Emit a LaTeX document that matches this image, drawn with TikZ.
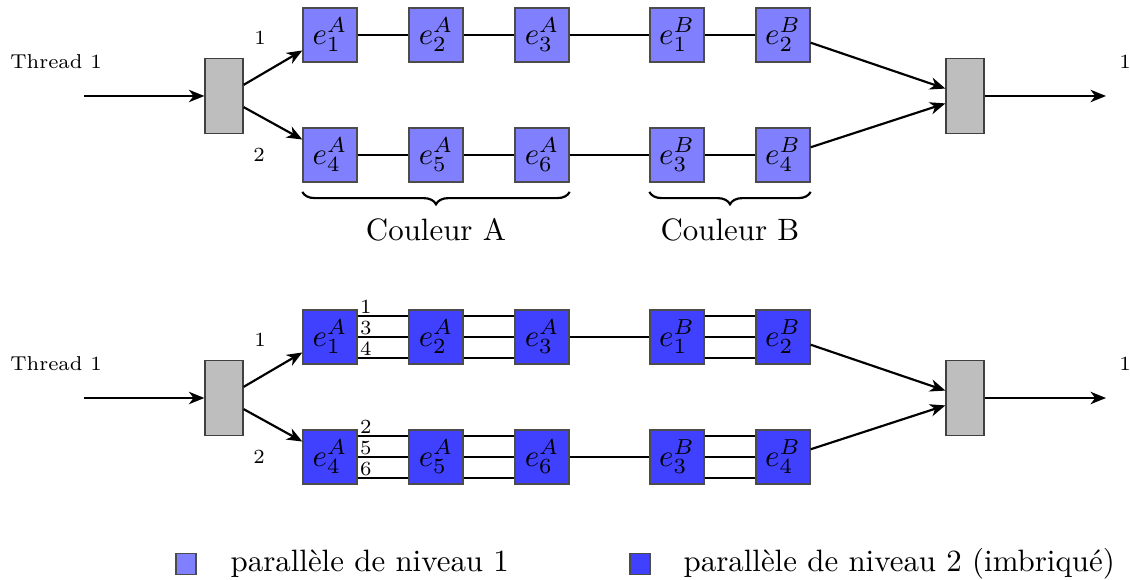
\documentclass[tikz,border=0pt]{standalone}
\usetikzlibrary{arrows.meta,decorations.pathreplacing}
\definecolor{lvone}{RGB}{128,128,255}
\definecolor{lvtwo}{RGB}{64,64,255}
\definecolor{splitgray}{RGB}{190,190,190}
\newcommand{\smallfnt}{\fontsize{6.5pt}{8pt}\selectfont}
\tikzset{
  elem/.style={draw=black!70, minimum width=17.5pt, minimum height=17.5pt, inner sep=0pt, font=\normalsize},
  lone/.style={elem, fill=lvone},
  ltwo/.style={elem, fill=lvtwo},
  splitbox/.style={draw=black!75, fill=splitgray, minimum width=12.3pt, minimum height=24.3pt, inner sep=0pt},
  conn/.style={line width=0.7pt},
  arr/.style={line width=0.7pt, -{Stealth[length=5pt,width=4pt,inset=1.5pt]}},
  small/.style={font=\smallfnt},
  lbl/.style={font=\smallfnt, inner sep=0.6pt, anchor=south west},
  bracestyle/.style={line width=0.7pt, decorate, decoration={brace, mirror, amplitude=4pt}},
  legsq/.style={draw=black!70, minimum width=6.5pt, minimum height=7pt, inner sep=0pt}
}
\begin{document}
\begin{tikzpicture}[x=0.3236pt, y=-0.3236pt]
\useasboundingbox (0,0) rectangle (1130,580);

% ---------------- top diagram ----------------
\node[small] (th1) at (56,62) {Thread 1};
\coordinate (in1) at (84,96);
\node[splitbox] (s1) at (224,96) {};
\node[splitbox] (m1) at (965,96) {};
\coordinate (out1) at (1106,96);
\node[small] (o1) at (1125,62) {1};

\node[lone] (a1) at (330,35) {$e_1^A$};
\node[lone] (a2) at (436,35) {$e_2^A$};
\node[lone] (a3) at (542,35) {$e_3^A$};
\node[lone] (b1) at (677,35) {$e_1^B$};
\node[lone] (b2) at (783,35) {$e_2^B$};
\node[lone] (a4) at (330,155) {$e_4^A$};
\node[lone] (a5) at (436,155) {$e_5^A$};
\node[lone] (a6) at (542,155) {$e_6^A$};
\node[lone] (b3) at (677,155) {$e_3^B$};
\node[lone] (b4) at (783,155) {$e_4^B$};

\node[small] (t1l1) at (260,38) {1};
\node[small] (t1l2) at (259,155) {2};

\draw[arr] (in1) -- (s1.west);
\draw[arr] ([yshift=3.6pt]s1.east) -- ([yshift=-5pt]a1.west);
\draw[arr] ([yshift=-3.6pt]s1.east) -- ([yshift=5pt]a4.west);
\draw[conn] (a1) -- (a2) -- (a3) -- (b1) -- (b2);
\draw[conn] (a4) -- (a5) -- (a6) -- (b3) -- (b4);
\draw[arr] ([yshift=-2.5pt]b2.east) -- ([yshift=2.4pt]m1.west);
\draw[arr] ([yshift=2.5pt]b4.east) -- ([yshift=-2.4pt]m1.west);
\draw[arr] (m1.east) -- (out1);

\draw[bracestyle] ([yshift=-3pt]a4.south west) -- ([yshift=-3pt]a6.south east)
  node[midway, below=5pt, font=\normalsize] (ca) {Couleur A};
\draw[bracestyle] ([yshift=-3pt]b3.south west) -- ([yshift=-3pt]b4.south east)
  node[midway, below=5pt, font=\normalsize] (cb) {Couleur B};

% ---------------- bottom diagram ----------------
\node[small] (th2) at (56,364) {Thread 1};
\coordinate (in2) at (84,398);
\node[splitbox] (s2) at (224,398) {};
\node[splitbox] (m2) at (965,398) {};
\coordinate (out2) at (1106,398);
\node[small] (o2) at (1125,364) {1};

\node[ltwo] (c1) at (330,337) {$e_1^A$};
\node[ltwo] (c2) at (436,337) {$e_2^A$};
\node[ltwo] (c3) at (542,337) {$e_3^A$};
\node[ltwo] (d1) at (677,337) {$e_1^B$};
\node[ltwo] (d2) at (783,337) {$e_2^B$};
\node[ltwo] (c4) at (330,457) {$e_4^A$};
\node[ltwo] (c5) at (436,457) {$e_5^A$};
\node[ltwo] (c6) at (542,457) {$e_6^A$};
\node[ltwo] (d3) at (677,457) {$e_3^B$};
\node[ltwo] (d4) at (783,457) {$e_4^B$};

\node[small] (t2l1) at (260,340) {1};
\node[small] (t2l2) at (259,457) {2};

\draw[arr] (in2) -- (s2.west);
\draw[arr] ([yshift=3.6pt]s2.east) -- ([yshift=-5pt]c1.west);
\draw[arr] ([yshift=-3.6pt]s2.east) -- ([yshift=5pt]c4.west);

\foreach \p/\q in {c1/c2, c2/c3, d1/d2, c4/c5, c5/c6, d3/d4}{
  \draw[conn] ([yshift=6.8pt]\p.east) -- ([yshift=6.8pt]\q.west);
  \draw[conn] (\p.east) -- (\q.west);
  \draw[conn] ([yshift=-6.8pt]\p.east) -- ([yshift=-6.8pt]\q.west);
}
\draw[conn] (c3) -- (d1);
\draw[conn] (c6) -- (d3);

\node[lbl] (n1) at ([yshift=6.8pt]c1.east) {1};
\node[lbl] (n3) at (c1.east) {3};
\node[lbl] (n4) at ([yshift=-6.8pt]c1.east) {4};
\node[lbl] (n2) at ([yshift=6.8pt]c4.east) {2};
\node[lbl] (n5) at (c4.east) {5};
\node[lbl] (n6) at ([yshift=-6.8pt]c4.east) {6};

\draw[arr] ([yshift=-2.5pt]d2.east) -- ([yshift=2.4pt]m2.west);
\draw[arr] ([yshift=2.5pt]d4.east) -- ([yshift=-2.4pt]m2.west);
\draw[arr] (m2.east) -- (out2);

% ---------------- legend ----------------
\node[legsq, fill=lvone] (lg1) at (186,564) {};
\node[anchor=west, inner sep=0pt, font=\normalsize] (lt1) at (230,564) {parallèle de niveau 1};
\node[legsq, fill=lvtwo] (lg2) at (640,564) {};
\node[anchor=west, inner sep=0pt, font=\normalsize] (lt2) at (683,564) {parallèle de niveau 2 (imbriqué)};
\end{tikzpicture}
\end{document}
